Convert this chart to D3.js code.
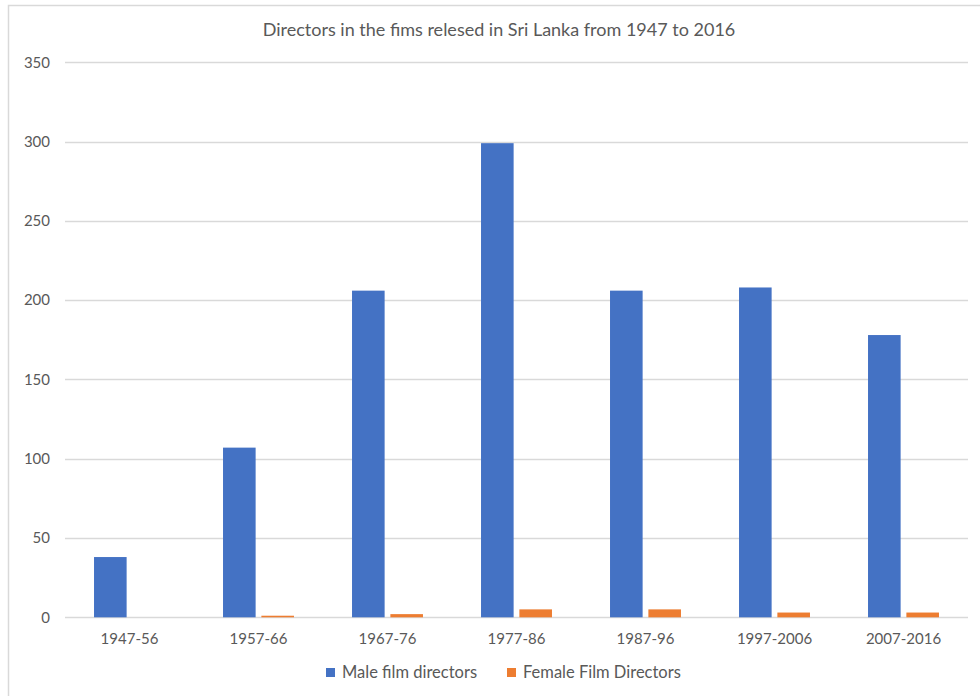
<!DOCTYPE html>
<html>
<head>
<meta charset="utf-8">
<script src="https://cdn.jsdelivr.net/npm/d3@7"></script>
<style>
  body { margin: 0; background: #fff; }
  text { font-family: Lato, "Open Sans", sans-serif; fill: #595959; }
</style>
</head>
<body>
<div id="chart"></div>
<script>
// data
var periods = ["1947-56", "1957-66", "1967-76", "1977-86", "1987-96", "1997-2006", "2007-2016"];
var maleDirectors = [38, 107, 206, 299, 206, 208, 178];
var femaleDirectors = [0, 1, 2, 5, 5, 3, 3];
var seriesNames = ["Male film directors", "Female Film Directors"];
var yTicks = [0, 50, 100, 150, 200, 250, 300, 350];

var width = 980, height = 696;
var colors = ["#4472C4", "#ED7D31"];

var svg = d3.select("#chart").append("svg")
    .attr("width", width)
    .attr("height", height);

// chart area border (right/bottom run off the picture)
svg.append("rect")
    .attr("x", 8.5).attr("y", 5.5)
    .attr("width", 990).attr("height", 710)
    .attr("fill", "#fff")
    .attr("stroke", "#d9d9d9")
    .attr("stroke-width", 1.5);

var plotLeft = 65, plotRight = 968, plotTop = 62.3, plotBottom = 617.3;

var y = d3.scaleLinear().domain([0, 350]).range([plotBottom, plotTop]);

var x0 = d3.scaleBand()
    .domain(periods)
    .range([plotLeft, plotRight])
    .paddingInner(0.45)
    .paddingOuter(0.225);

var x1 = d3.scaleBand()
    .domain(seriesNames)
    .range([0, x0.bandwidth()])
    .paddingInner(0.15);

// title
svg.append("text")
    .attr("x", 499)
    .attr("y", 36)
    .attr("text-anchor", "middle")
    .style("font-size", "18px")
    .text("Directors in the fims relesed in Sri Lanka from 1947 to 2016");

// gridlines
svg.append("g")
    .selectAll("line")
    .data(yTicks)
    .enter().append("line")
    .attr("x1", plotLeft)
    .attr("x2", plotRight)
    .attr("y1", function (d) { return Math.round(y(d)) + 0.5; })
    .attr("y2", function (d) { return Math.round(y(d)) + 0.5; })
    .attr("stroke", "#d9d9d9")
    .attr("stroke-width", 1.5);

// y tick labels
svg.append("g")
    .selectAll("text")
    .data(yTicks)
    .enter().append("text")
    .attr("x", 50)
    .attr("y", function (d) { return y(d); })
    .attr("dy", "0.35em")
    .attr("text-anchor", "end")
    .style("font-size", "15px")
    .text(function (d) { return d; });

// bars
var rows = periods.map(function (p, i) {
    return { period: p, values: [maleDirectors[i], femaleDirectors[i]] };
});

var groups = svg.append("g")
    .selectAll("g")
    .data(rows)
    .enter().append("g")
    .attr("transform", function (d) { return "translate(" + x0(d.period) + ",0)"; });

groups.selectAll("rect")
    .data(function (d) {
        return d.values.map(function (v, j) { return { name: seriesNames[j], value: v, j: j }; });
    })
    .enter().append("rect")
    .attr("x", function (d) { return x1(d.name); })
    .attr("width", x1.bandwidth())
    .attr("y", function (d) { return y(d.value); })
    .attr("height", function (d) { return plotBottom - y(d.value); })
    .attr("fill", function (d) { return colors[d.j]; });

// x labels
svg.append("g")
    .selectAll("text")
    .data(periods)
    .enter().append("text")
    .attr("x", function (d) { return x0(d) + x0.bandwidth() / 2; })
    .attr("y", 644)
    .attr("text-anchor", "middle")
    .style("font-size", "15px")
    .text(function (d) { return d; });

// legend
var legendX = [326, 507];
var legend = svg.append("g")
    .selectAll("g")
    .data(seriesNames)
    .enter().append("g")
    .attr("transform", function (d, i) { return "translate(" + legendX[i] + ",668)"; });

legend.append("rect")
    .attr("width", 9).attr("height", 9)
    .attr("fill", function (d, i) { return colors[i]; });

legend.append("text")
    .attr("x", 16)
    .attr("y", 10)
    .style("font-size", "16.5px")
    .text(function (d) { return d; });
</script>
</body>
</html>
